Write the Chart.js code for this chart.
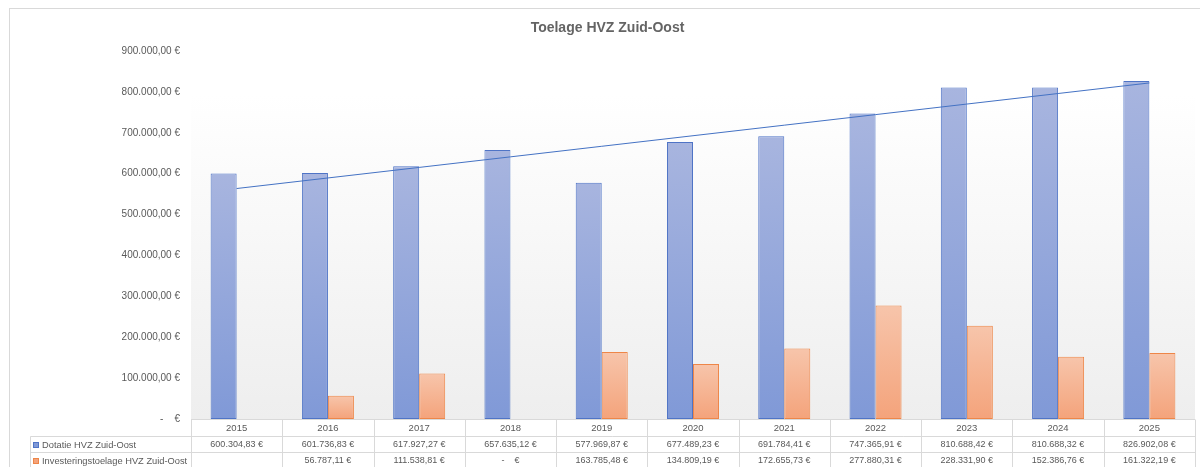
<!DOCTYPE html>
<html>
<head>
<meta charset="utf-8">
<script src="https://cdn.jsdelivr.net/npm/chart.js@4.4.1/dist/chart.umd.min.js"></script>
<style>
html,body{margin:0;padding:0;background:#fff;}
#wrap{position:relative;width:1200px;height:467px;}
canvas{display:block;}
</style>
</head>
<body>
<div id="wrap"><canvas id="c" width="1200" height="467"></canvas></div>
<script>
// ---- data ----
const chartTitle = 'Toelage HVZ Zuid-Oost';
const categories = ['2015','2016','2017','2018','2019','2020','2021','2022','2023','2024','2025'];
const seriesNames = ['Dotatie HVZ Zuid-Oost', 'Investeringstoelage HVZ Zuid-Oost'];
const dotatie = [600304.83, 601736.83, 617927.27, 657635.12, 577969.87, 677489.23, 691784.41, 747365.91, 810688.42, 810688.32, 826902.08];
const investering = [null, 56787.11, 111538.81, 0, 163785.48, 134809.19, 172655.73, 277880.31, 228331.90, 152386.76, 161322.19];
const yTicks = [0, 100000, 200000, 300000, 400000, 500000, 600000, 700000, 800000, 900000];

// ---- helpers ----
function fmtEuro(v) {
  if (v === null || v === undefined) return '';
  if (v === 0) return '-    €';
  const parts = Number(v).toFixed(2).split('.');
  const int = parts[0].replace(/\B(?=(\d{3})+(?!\d))/g, '.');
  return int + ',' + parts[1] + ' €';
}
// linear trendline (least squares) of the Dotatie series
function linearTrend(vals) {
  const n = vals.length;
  let sx = 0, sy = 0, sxy = 0, sxx = 0;
  vals.forEach((v, i) => { sx += i; sy += v; sxy += i * v; sxx += i * i; });
  const slope = (n * sxy - sx * sy) / (n * sxx - sx * sx);
  const intercept = (sy - slope * sx) / n;
  return vals.map((_, i) => intercept + slope * i);
}
function barGradient(top, bottom) {
  return (c) => {
    const chart = c.chart;
    const ys = chart.scales && chart.scales.y;
    if (!chart.chartArea || !ys || c.raw === null || c.raw === undefined) return bottom;
    const yt = ys.getPixelForValue(c.raw);
    const yb = ys.getPixelForValue(0);
    if (!isFinite(yt) || !isFinite(yb) || Math.abs(yb - yt) < 1) return bottom;
    const g = chart.ctx.createLinearGradient(0, yt, 0, yb);
    g.addColorStop(0, top);
    g.addColorStop(1, bottom);
    return g;
  };
}

const TXT = '#595959';
const FONT = '"Liberation Sans", Arial, sans-serif';
const blueFillTop = '#a8b5df', blueFillBottom = '#8099d7', blueBorder = '#4f74c6';
const orangeFillTop = '#f7c5ab', orangeFillBottom = '#f4a37b', orangeBorder = '#ee8648';

// ---- plugins ----
const framePlugin = {
  id: 'frame',
  beforeDraw(chart) {
    const ctx = chart.ctx, ca = chart.chartArea;
    ctx.save();
    ctx.fillStyle = '#ffffff';
    ctx.fillRect(0, 0, chart.width, chart.height);
    ctx.strokeStyle = '#d9d9d9';
    ctx.lineWidth = 1;
    ctx.strokeRect(9.5, 8.5, chart.width + 20, chart.height + 20);
    const g = ctx.createLinearGradient(0, ca.top, 0, ca.bottom);
    g.addColorStop(0, '#ffffff');
    g.addColorStop(0.12, '#ffffff');
    g.addColorStop(1, '#eeeeee');
    ctx.fillStyle = g;
    ctx.fillRect(ca.left, ca.top, ca.right - ca.left, ca.bottom - ca.top);
    ctx.restore();
  }
};

const tablePlugin = {
  id: 'dataTable',
  afterDraw(chart) {
    const ctx = chart.ctx, ca = chart.chartArea, xs = chart.scales.x;
    const n = categories.length;
    const y0 = Math.round(ca.bottom) + 0.5;
    const y1 = y0 + 17, y2 = y1 + 16, y3 = y2 + 16;
    const legendLeft = 30.5;
    const bounds = [ca.left];
    for (let i = 1; i < n; i++) bounds.push((xs.getPixelForValue(i - 1) + xs.getPixelForValue(i)) / 2);
    bounds.push(ca.right);
    ctx.save();
    ctx.strokeStyle = '#d9d9d9';
    ctx.lineWidth = 1;
    ctx.beginPath();
    ctx.moveTo(ca.left, y0); ctx.lineTo(ca.right, y0);
    [y1, y2, y3].forEach(y => { ctx.moveTo(legendLeft, y); ctx.lineTo(ca.right, y); });
    bounds.forEach(b => { const bx = Math.round(b) + 0.5; ctx.moveTo(bx, y0); ctx.lineTo(bx, y3); });
    ctx.moveTo(legendLeft, y1); ctx.lineTo(legendLeft, y3);
    ctx.stroke();

    ctx.fillStyle = TXT;
    ctx.textBaseline = 'middle';
    ctx.textAlign = 'center';
    categories.forEach((c, i) => {
      const cx = xs.getPixelForValue(i);
      ctx.font = '9.5px ' + FONT;
      ctx.fillText(c, cx, (y0 + y1) / 2 + 0.5);
      ctx.font = '9px ' + FONT;
      ctx.fillText(fmtEuro(dotatie[i]), cx, (y1 + y2) / 2 + 0.5);
      ctx.fillText(fmtEuro(investering[i]), cx, (y2 + y3) / 2 + 0.5);
    });
    // legend keys + names
    ctx.font = '9.3px ' + FONT;
    const keys = [[blueFillBottom, blueBorder], [orangeFillBottom, orangeBorder]];
    [(y1 + y2) / 2, (y2 + y3) / 2].forEach((cy, k) => {
      ctx.fillStyle = keys[k][0];
      ctx.fillRect(33, Math.round(cy - 3), 6, 6);
      ctx.strokeStyle = keys[k][1];
      ctx.strokeRect(33.5, Math.round(cy - 3) + 0.5, 5, 5);
      ctx.fillStyle = TXT;
      ctx.textAlign = 'left';
      ctx.fillText(seriesNames[k], 42, cy + 0.5);
    });
    ctx.restore();
  }
};

// ---- chart ----
const trend = linearTrend(dotatie);

new Chart(document.getElementById('c'), {
  type: 'bar',
  data: {
    labels: categories,
    datasets: [
      {
        type: 'line',
        label: 'Lineair (' + seriesNames[0] + ')',
        data: trend,
        borderColor: '#4472c4',
        borderWidth: 1,
        pointRadius: 0,
        fill: false,
        tension: 0,
        order: 0
      },
      {
        label: seriesNames[0],
        data: dotatie,
        backgroundColor: barGradient(blueFillTop, blueFillBottom),
        borderColor: blueBorder,
        borderWidth: 1,
        borderSkipped: false,
        categoryPercentage: 0.57,
        barPercentage: 1,
        order: 1
      },
      {
        label: seriesNames[1],
        data: investering,
        backgroundColor: barGradient(orangeFillTop, orangeFillBottom),
        borderColor: orangeBorder,
        borderWidth: 1,
        borderSkipped: false,
        categoryPercentage: 0.57,
        barPercentage: 1,
        order: 1
      }
    ]
  },
  options: {
    responsive: false,
    animation: false,
    devicePixelRatio: 1,
    layout: { padding: { left: 20, right: 5, top: 0, bottom: 48 } },
    plugins: {
      legend: { display: false },
      tooltip: { enabled: false },
      title: {
        display: true,
        text: chartTitle,
        color: '#646464',
        font: { family: FONT, size: 14, weight: 'bold' },
        padding: { top: 20, bottom: 14.2 }
      }
    },
    scales: {
      x: {
        display: false,
        offset: true,
        grid: { display: false }
      },
      y: {
        min: 0,
        max: 900000,
        afterBuildTicks: (s) => { s.ticks = yTicks.map(v => ({ value: v })); },
        afterFit: (s) => { s.width = 171; },
        ticks: {
          callback: (v) => fmtEuro(v),
          padding: 11,
          color: TXT,
          font: { family: FONT, size: 10 }
        },
        grid: { display: false, drawTicks: false },
        border: { display: false }
      }
    }
  },
  plugins: [framePlugin, tablePlugin]
});
</script>
</body>
</html>
